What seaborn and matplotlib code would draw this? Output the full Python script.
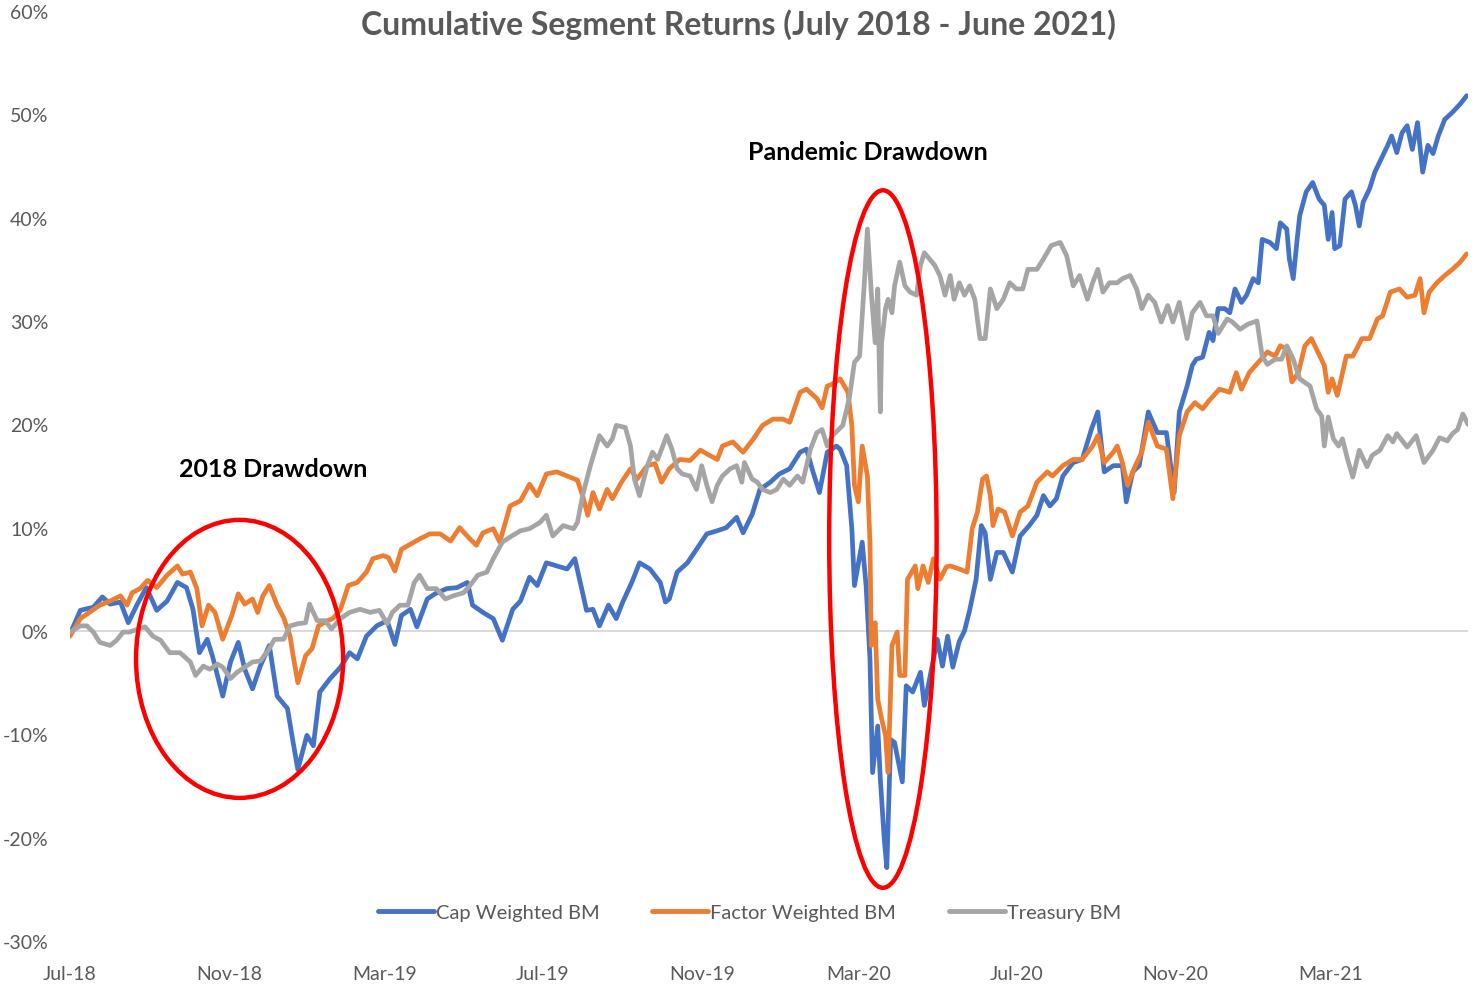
import numpy as np
import pandas as pd
import matplotlib
matplotlib.use("Agg")
import matplotlib.pyplot as plt
import matplotlib.dates as mdates
from matplotlib.patches import Ellipse
from matplotlib.lines import Line2D
import seaborn as sns

# ---------------- data (days since 1 Jul 2018, cumulative return in %) ----------------
START = "2018-07-01"
END_DAYS = 1080

series_names = ["Cap Weighted BM", "Factor Weighted BM", "Treasury BM"]
series_colors = ["#4472C4", "#ED7D31", "#A5A5A5"]

cap_day = [0, 8, 18, 25, 31, 39, 45, 52, 59, 67,
           75, 83, 90, 95, 100, 106, 110, 118, 124, 130,
           135, 141, 147, 154, 160, 168, 172, 176, 183, 188,
           193, 201, 209, 216, 222, 229, 237, 245, 251, 256,
           263, 268, 276, 282, 291, 299, 307, 311, 319, 327,
           334, 342, 348, 355, 361, 368, 376, 384, 390, 396,
           399, 404, 409, 416, 422, 427, 434, 440, 448, 456,
           460, 463, 469, 477, 484, 492, 500, 507, 515, 520,
           527, 533, 541, 548, 556, 564, 569, 574, 579, 585,
           592, 595, 600, 604, 606, 612, 615, 618, 620, 624,
           626, 629, 631, 634, 637, 643, 646, 651, 657, 660,
           666, 670, 674, 678, 682, 687, 691, 695, 700, 704,
           707, 711, 716, 721, 728, 734, 741, 747, 752, 757,
           762, 767, 775, 782, 789, 794, 799, 806, 813, 816,
           821, 826, 833, 840, 847, 853, 857, 863, 867, 870,
           875, 880, 883, 887, 892, 896, 900, 905, 909, 914,
           918, 921, 927, 932, 935, 940, 942, 945, 948, 950,
           955, 960, 965, 969, 972, 975, 977, 981, 985, 990,
           993, 996, 999, 1004, 1008, 1013, 1018, 1021, 1025, 1029,
           1033, 1037, 1041, 1045, 1049, 1053, 1057, 1062, 1068, 1074,
           1079]
cap_ret = [-0.3, 2.0, 2.3, 3.3, 2.6, 2.8, 0.8, 2.6, 4.2, 2.0,
           2.9, 4.7, 4.2, 2.1, -2.1, -0.8, -2.4, -6.3, -3.0, -1.1,
           -3.7, -5.6, -3.4, -1.4, -6.3, -7.5, -10.5, -13.4, -10.1, -11.1,
           -5.9, -4.6, -3.5, -2.1, -2.7, -0.5, 0.5, 1.0, -1.3, 1.5,
           2.1, 0.4, 3.1, 3.6, 4.1, 4.2, 4.7, 2.5, 1.8, 1.2,
           -0.9, 2.1, 2.9, 5.2, 4.4, 6.6, 6.3, 6.0, 7.0, 3.7,
           2.0, 2.1, 0.5, 2.5, 1.2, 2.8, 4.7, 6.6, 6.0, 4.7,
           2.8, 3.1, 5.7, 6.6, 7.9, 9.4, 9.7, 10.0, 11.0, 9.5,
           11.3, 13.7, 14.4, 15.2, 15.7, 17.3, 17.6, 15.4, 13.4, 17.3,
           17.9, 17.6, 16.0, 9.9, 4.4, 8.6, 4.4, -2.7, -13.7, -9.2,
           -14.3, -20.1, -22.9, -10.5, -10.8, -14.6, -5.3, -5.9, -4.0, -7.2,
           -3.4, -0.8, -3.4, -0.5, -3.5, -1.0, 0.0, 2.0, 5.0, 10.2,
           9.5, 5.0, 7.6, 7.6, 5.7, 9.2, 10.2, 11.2, 13.1, 12.1,
           12.8, 15.0, 16.3, 16.6, 19.5, 21.2, 15.4, 16.0, 16.0, 12.5,
           15.4, 16.0, 21.2, 19.2, 19.2, 13.4, 21.2, 23.7, 25.7, 26.3,
           26.5, 28.9, 28.1, 31.2, 31.2, 30.8, 33.1, 31.8, 32.5, 34.1,
           33.7, 37.9, 37.6, 37.0, 39.5, 38.9, 36.0, 34.1, 37.9, 40.2,
           42.5, 43.4, 41.8, 41.2, 37.9, 40.5, 37.0, 37.3, 41.8, 42.5,
           41.2, 39.2, 41.5, 42.8, 44.4, 45.7, 47.0, 47.9, 46.3, 48.2,
           48.9, 46.6, 49.2, 44.4, 47.0, 46.2, 47.9, 49.5, 50.2, 51.0,
           51.8]

fac_day = [0, 8, 15, 23, 31, 39, 44, 48, 54, 60,
           67, 75, 83, 87, 93, 98, 102, 107, 112, 118,
           125, 130, 135, 141, 145, 149, 154, 160, 165, 170,
           172, 176, 182, 187, 192, 199, 203, 209, 215, 222,
           229, 234, 242, 246, 251, 256, 263, 270, 278, 286,
           294, 301, 309, 314, 319, 327, 332, 340, 348, 355,
           361, 368, 376, 384, 392, 396, 400, 404, 409, 415,
           419, 426, 433, 438, 446, 452, 457, 463, 471, 479,
           487, 494, 500, 504, 512, 520, 528, 535, 543, 551,
           556, 564, 569, 577, 581, 585, 589, 595, 601, 604,
           606, 609, 612, 616, 618, 619, 622, 624, 627, 630,
           632, 635, 639, 641, 645, 647, 653, 655, 659, 663,
           667, 672, 677, 680, 687, 693, 697, 701, 705, 708,
           711, 713, 717, 722, 728, 734, 740, 747, 755, 759,
           767, 775, 782, 790, 794, 799, 806, 809, 813, 817,
           823, 828, 833, 840, 847, 852, 857, 863, 869, 875,
           880, 888, 896, 901, 905, 911, 918, 925, 931, 935,
           940, 944, 949, 954, 959, 964, 969, 972, 975, 979,
           982, 986, 991, 994, 998, 1004, 1010, 1014, 1020, 1027,
           1033, 1039, 1043, 1046, 1050, 1056, 1062, 1068, 1074, 1079]
fac_ret = [-0.5, 1.2, 1.8, 2.5, 2.9, 3.4, 2.5, 3.7, 4.1, 4.9,
           4.2, 5.4, 6.3, 5.5, 5.7, 4.1, 0.5, 2.5, 1.8, -0.8,
           1.5, 3.6, 2.6, 3.1, 1.8, 3.4, 4.4, 2.5, 1.3, -0.5,
           -2.1, -5.0, -2.4, -1.7, 0.5, 1.0, 1.2, 2.1, 4.4, 4.7,
           5.7, 7.0, 7.3, 7.1, 5.8, 7.9, 8.4, 8.9, 9.4, 9.4,
           8.7, 10.0, 8.9, 8.3, 9.5, 9.9, 8.6, 12.1, 12.6, 14.2,
           13.1, 15.2, 15.4, 15.0, 14.6, 13.1, 11.2, 13.4, 11.8, 13.7,
           12.8, 14.4, 15.7, 14.7, 16.0, 16.2, 14.4, 15.7, 16.6, 16.5,
           17.5, 17.0, 16.6, 17.9, 18.3, 17.3, 18.6, 19.9, 20.5, 20.5,
           20.2, 23.1, 23.4, 22.5, 21.6, 23.7, 23.9, 24.4, 23.1, 19.9,
           14.1, 12.5, 17.9, 15.0, 8.6, -1.4, 0.8, -6.6, -8.5, -10.1,
           -13.7, -1.4, -0.1, -4.3, -4.3, 5.0, 6.3, 4.1, 6.3, 4.7,
           7.0, 5.0, 6.2, 6.3, 6.0, 5.7, 9.9, 11.5, 14.7, 15.0,
           13.1, 10.2, 11.8, 11.5, 9.2, 11.5, 12.1, 14.4, 15.4, 15.0,
           16.0, 16.6, 16.6, 17.9, 18.9, 16.3, 17.3, 17.9, 16.3, 14.1,
           16.0, 17.3, 20.2, 17.9, 17.6, 12.8, 18.9, 21.2, 22.1, 21.5,
           22.3, 23.4, 23.1, 25.0, 23.4, 25.0, 26.0, 27.0, 26.6, 27.6,
           27.3, 24.1, 25.0, 27.6, 28.3, 27.0, 25.7, 23.1, 24.4, 22.8,
           24.4, 26.6, 26.6, 27.3, 28.3, 28.3, 30.2, 30.5, 32.8, 33.1,
           32.3, 32.5, 34.1, 30.8, 32.8, 33.7, 34.4, 35.0, 35.7, 36.5]

tsy_day = [0, 8, 13, 18, 23, 31, 36, 41, 46, 53,
           58, 64, 70, 77, 85, 93, 97, 103, 108, 114,
           118, 124, 129, 135, 141, 147, 153, 158, 165, 170,
           176, 182, 185, 191, 197, 202, 209, 216, 224, 232,
           239, 245, 249, 255, 261, 266, 270, 276, 283, 290,
           296, 304, 309, 315, 322, 327, 334, 340, 348, 355,
           363, 368, 373, 381, 389, 392, 396, 402, 409, 415,
           419, 422, 429, 433, 436, 440, 446, 450, 454, 461,
           465, 469, 473, 479, 484, 488, 492, 496, 500, 504,
           510, 515, 519, 521, 527, 531, 535, 541, 546, 551,
           556, 562, 566, 572, 577, 581, 585, 589, 597, 602,
           606, 610, 614, 616, 619, 622, 624, 626, 627, 630,
           632, 635, 637, 641, 645, 649, 654, 657, 660, 664,
           668, 672, 676, 680, 683, 687, 691, 695, 699, 703,
           707, 711, 716, 721, 726, 731, 736, 740, 747, 752,
           758, 765, 770, 775, 780, 786, 790, 794, 798, 803,
           809, 813, 819, 824, 828, 833, 838, 843, 848, 852,
           857, 863, 867, 873, 878, 883, 887, 894, 898, 904,
           910, 917, 921, 925, 931, 936, 940, 945, 950, 958,
           963, 967, 969, 972, 976, 980, 983, 987, 991, 996,
           1002, 1006, 1012, 1018, 1022, 1025, 1033, 1040, 1046, 1053,
           1058, 1064, 1068, 1072, 1076, 1080]
tsy_ret = [-0.1, 0.5, 0.5, -0.1, -1.1, -1.4, -0.9, -0.1, -0.1, 0.2,
           0.4, -0.5, -0.9, -2.1, -2.1, -3.0, -4.3, -3.4, -3.7, -3.2,
           -3.5, -4.6, -4.0, -3.5, -3.0, -2.9, -1.9, -0.8, -0.8, 0.5,
           0.7, 0.8, 2.6, 1.0, 1.0, 0.2, 1.2, 1.8, 2.1, 1.8,
           2.0, 0.7, 1.8, 2.5, 2.5, 4.7, 5.4, 4.1, 4.1, 3.1,
           3.4, 3.7, 4.4, 5.4, 5.7, 7.0, 8.6, 9.1, 9.7, 9.9,
           10.5, 11.2, 9.2, 10.2, 9.9, 10.5, 13.1, 16.0, 18.9, 17.9,
           18.6, 19.9, 19.7, 17.9, 14.7, 13.1, 16.0, 17.3, 16.6, 18.9,
           17.6, 15.7, 15.2, 15.0, 13.7, 16.0, 14.1, 12.5, 14.1, 15.0,
           15.7, 16.0, 14.4, 16.3, 14.7, 14.4, 13.7, 13.4, 13.7, 14.7,
           14.1, 15.0, 14.4, 17.6, 19.2, 19.5, 17.9, 18.9, 19.9, 22.5,
           26.0, 26.6, 34.4, 38.9, 32.8, 27.9, 33.1, 21.2, 27.9, 31.2,
           32.1, 30.8, 33.4, 35.7, 33.4, 32.8, 32.5, 35.4, 36.6, 36.0,
           35.4, 34.4, 32.5, 34.4, 32.1, 33.7, 32.5, 33.4, 32.1, 28.3,
           28.3, 33.1, 31.2, 32.1, 33.7, 33.1, 33.1, 35.0, 35.0, 36.0,
           37.3, 37.6, 36.3, 33.4, 34.4, 32.1, 33.7, 35.0, 32.8, 33.7,
           33.7, 34.1, 34.4, 33.1, 31.2, 32.5, 31.8, 29.9, 31.5, 29.9,
           31.8, 28.3, 30.8, 31.8, 30.5, 30.5, 28.8, 30.2, 29.9, 29.2,
           29.7, 30.0, 26.6, 25.8, 26.3, 26.3, 27.6, 26.3, 24.4, 23.7,
           21.5, 20.8, 17.9, 20.7, 18.6, 17.9, 18.6, 16.6, 14.9, 17.5,
           15.9, 17.0, 17.5, 18.9, 18.3, 19.1, 17.8, 18.9, 16.3, 17.5,
           18.7, 18.4, 19.1, 19.5, 21.0, 20.0]

x_tick_months = ["2018-07-01", "2018-11-01", "2019-03-01", "2019-07-01", "2019-11-01",
                 "2020-03-01", "2020-07-01", "2020-11-01", "2021-03-01"]
y_ticks = [-30, -20, -10, 0, 10, 20, 30, 40, 50, 60]

title_text = "Cumulative Segment Returns (July 2018 - June 2021)"
# annotation regions: (label, label day, label %, ellipse centre day, centre %, width days, height %)
notes = [("2018 Drawdown", 157, 15.7, 131, -2.7, 160, 26.9),
         ("Pandemic Drawdown", 616, 46.4, 628, 8.9, 83, 67.5)]

# ---------------- build long dataframe ----------------
start = pd.Timestamp(START)
frames = []
for name, d, v in zip(series_names, [cap_day, fac_day, tsy_day], [cap_ret, fac_ret, tsy_ret]):
    frames.append(pd.DataFrame({"date": start + pd.to_timedelta(d, unit="D"),
                                "ret": v, "series": name}))
df = pd.concat(frames, ignore_index=True)

# ---------------- plot ----------------
sns.set_theme(style="white")
plt.rcParams["font.family"] = ["Lato", "DejaVu Sans"]

fig = plt.figure(figsize=(14.78, 9.87), dpi=100)
ax = fig.add_axes([70 / 1478, 45 / 987, 1398 / 1478, 930 / 987])

ax.axhline(0, color="#D9D9D9", lw=1.4, zorder=1)

sns.lineplot(data=df, x="date", y="ret", hue="series", hue_order=series_names,
             palette=series_colors, estimator=None, sort=False, lw=3.4,
             legend=False, ax=ax, zorder=2)
for ln in ax.get_lines():
    ln.set_solid_joinstyle("round")
    ln.set_solid_capstyle("round")

ax.set_xlim(start, start + pd.Timedelta(days=END_DAYS))
ax.set_ylim(-30, 60)
ax.set_yticks(y_ticks)
ax.set_yticklabels([f"{t}%" for t in y_ticks])
ax.set_xticks(pd.to_datetime(x_tick_months))
ax.xaxis.set_major_formatter(mdates.DateFormatter("%b-%y"))
ax.tick_params(axis="both", length=0, labelsize=14, labelcolor="#595959")
ax.tick_params(axis="y", pad=15.5)
ax.tick_params(axis="x", pad=17)
ax.set_xlabel("")
ax.set_ylabel("")
for s in ax.spines.values():
    s.set_visible(False)
ax.grid(False)

# annotations
for label, lx, ly, cx, cy, w, h in notes:
    ax.text(start + pd.Timedelta(days=lx), ly, label, ha="center", va="center",
            fontsize=18, fontweight="bold", color="black")
    e = Ellipse((mdates.date2num(start + pd.Timedelta(days=cx)), cy), width=w, height=h,
                fill=False, edgecolor="#FF0000", lw=3.2, zorder=5)
    ax.add_patch(e)

# legend
handles = [Line2D([0], [0], color=c, lw=3.5, solid_capstyle="round") for c in series_colors]
leg = ax.legend(handles, series_names, loc="center", bbox_to_anchor=(0.486, 0.031),
                ncol=3, frameon=False, fontsize=14.5, handlelength=2.8,
                handletextpad=0.1, columnspacing=2.6)
for t in leg.get_texts():
    t.set_color("#595959")

fig.text(738 / 1478, 1 - 25 / 987, title_text, ha="center", va="center",
         fontsize=23, fontweight="bold", color="#595959")

fig.savefig("out.png", dpi=100)
